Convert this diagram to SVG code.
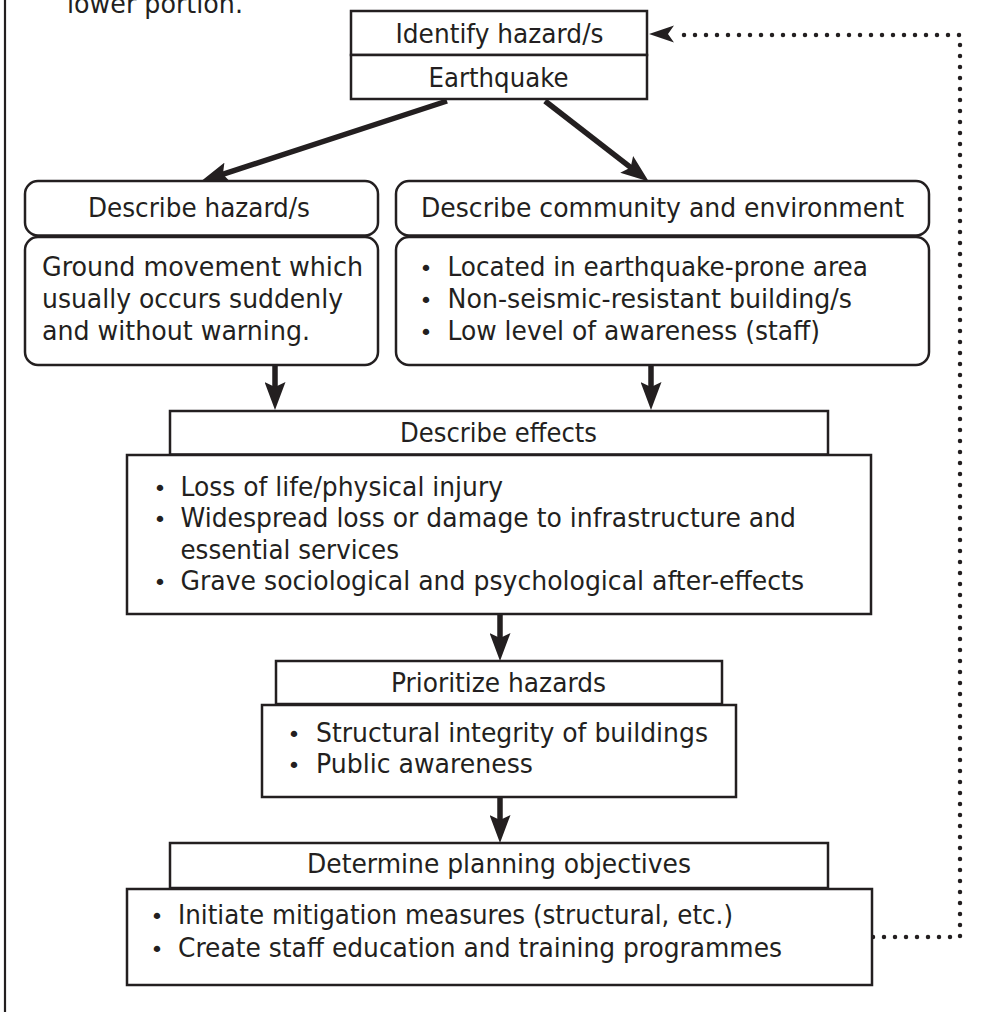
<svg xmlns="http://www.w3.org/2000/svg" width="985" height="1012" viewBox="0 0 985 1012">
<defs>
<style>
.box{fill:#fff;stroke:#231f20;stroke-width:2.5}
.t{font-family:"DejaVu Sans","Liberation Sans",sans-serif;font-size:26.5px;fill:#231f20}
.b{font-size:22px}
.arrow{stroke:#231f20;stroke-width:5.5;fill:none}
.dots{stroke:#231f20;stroke-width:4.5;stroke-linecap:round;stroke-dasharray:0 11;fill:none}
.frame{stroke:#231f20;stroke-width:2.2}
</style>
<marker id="ah" markerUnits="userSpaceOnUse" markerWidth="28" markerHeight="21" refX="7" refY="10.5" orient="auto">
<path d="M0,0 L28,10.5 L0,21 L5,10.5 Z" fill="#231f20"/>
</marker>
</defs>
<rect width="985" height="1012" fill="#fff"/>
<line class="frame" x1="5" y1="0" x2="5" y2="1012"/>
<text class="t" x="67" y="13" textLength="176" lengthAdjust="spacingAndGlyphs">lower portion.</text>

<g id="connectors">
<line class="arrow" x1="447" y1="101" x2="221" y2="174.8" marker-end="url(#ah)"/>
<line class="arrow" x1="545" y1="101" x2="632.2" y2="168.7" marker-end="url(#ah)"/>
<line class="arrow" x1="275" y1="366" x2="275" y2="389" marker-end="url(#ah)"/>
<line class="arrow" x1="651" y1="366" x2="651" y2="389" marker-end="url(#ah)"/>
<line class="arrow" x1="500" y1="615" x2="500" y2="640" marker-end="url(#ah)"/>
<line class="arrow" x1="500" y1="798" x2="500" y2="822" marker-end="url(#ah)"/>
<path class="dots" d="M873,937 H960 V35 H680"/>
<path d="M649,34 L674,25.5 L668,34 L674,42.5 Z" fill="#231f20"/>
</g>

<g id="identify">
<rect class="box" x="351" y="11" width="296" height="44"/>
<rect class="box" x="351" y="55" width="296" height="44"/>
<text class="t" x="395.5" y="43" textLength="208" lengthAdjust="spacingAndGlyphs">Identify hazard/s</text>
<text class="t" x="428.5" y="87" textLength="140" lengthAdjust="spacingAndGlyphs">Earthquake</text>
</g>

<g id="describe-hazard">
<rect class="box" x="25" y="181" width="353" height="54.5" rx="13"/>
<rect class="box" x="25" y="237" width="353" height="128" rx="13"/>
<text class="t" x="88" y="217" textLength="222" lengthAdjust="spacingAndGlyphs">Describe hazard/s</text>
<text class="t" x="42" y="276" textLength="321" lengthAdjust="spacingAndGlyphs">Ground movement which</text>
<text class="t" x="42" y="308" textLength="301" lengthAdjust="spacingAndGlyphs">usually occurs suddenly</text>
<text class="t" x="42" y="340" textLength="268" lengthAdjust="spacingAndGlyphs">and without warning.</text>
</g>

<g id="describe-community">
<rect class="box" x="396" y="181" width="533" height="54.5" rx="13"/>
<rect class="box" x="396" y="237" width="533" height="128" rx="13"/>
<text class="t" x="421" y="217" textLength="483" lengthAdjust="spacingAndGlyphs">Describe community and environment</text>
<text class="t"><tspan class="b" x="419.5" y="276">•</tspan><tspan x="447.5" y="276" textLength="420.5" lengthAdjust="spacingAndGlyphs">Located in earthquake-prone area</tspan></text>
<text class="t"><tspan class="b" x="419.5" y="308">•</tspan><tspan x="447.5" y="308" textLength="404.5" lengthAdjust="spacingAndGlyphs">Non-seismic-resistant building/s</tspan></text>
<text class="t"><tspan class="b" x="419.5" y="340">•</tspan><tspan x="447.5" y="340" textLength="372.5" lengthAdjust="spacingAndGlyphs">Low level of awareness (staff)</tspan></text>
</g>

<g id="describe-effects">
<rect class="box" x="170" y="411" width="658" height="43.5"/>
<rect class="box" x="127" y="455" width="744" height="159"/>
<text class="t" x="400" y="442" textLength="197" lengthAdjust="spacingAndGlyphs">Describe effects</text>
<text class="t"><tspan class="b" x="153.5" y="496">•</tspan><tspan x="180.5" y="496" textLength="322.5" lengthAdjust="spacingAndGlyphs">Loss of life/physical injury</tspan></text>
<text class="t"><tspan class="b" x="153.5" y="527">•</tspan><tspan x="180.5" y="527" textLength="615.5" lengthAdjust="spacingAndGlyphs">Widespread loss or damage to infrastructure and</tspan></text>
<text class="t" x="180.5" y="559" textLength="218.5" lengthAdjust="spacingAndGlyphs">essential services</text>
<text class="t"><tspan class="b" x="153.5" y="590">•</tspan><tspan x="180.5" y="590" textLength="623.5" lengthAdjust="spacingAndGlyphs">Grave sociological and psychological after-effects</tspan></text>
</g>

<g id="prioritize">
<rect class="box" x="276" y="661" width="446" height="43"/>
<rect class="box" x="262" y="705" width="474" height="92"/>
<text class="t" x="391" y="692" textLength="215" lengthAdjust="spacingAndGlyphs">Prioritize hazards</text>
<text class="t"><tspan class="b" x="287.5" y="742">•</tspan><tspan x="316" y="742" textLength="392" lengthAdjust="spacingAndGlyphs">Structural integrity of buildings</tspan></text>
<text class="t"><tspan class="b" x="287.5" y="773">•</tspan><tspan x="316" y="773" textLength="217" lengthAdjust="spacingAndGlyphs">Public awareness</tspan></text>
</g>

<g id="objectives">
<rect class="box" x="170" y="843" width="658" height="45"/>
<rect class="box" x="127" y="889" width="745" height="96"/>
<text class="t" x="307" y="873" textLength="384" lengthAdjust="spacingAndGlyphs">Determine planning objectives</text>
<text class="t"><tspan class="b" x="150.5" y="924">•</tspan><tspan x="178" y="924" textLength="555" lengthAdjust="spacingAndGlyphs">Initiate mitigation measures (structural, etc.)</tspan></text>
<text class="t"><tspan class="b" x="150.5" y="957">•</tspan><tspan x="178" y="957" textLength="604" lengthAdjust="spacingAndGlyphs">Create staff education and training programmes</tspan></text>
</g>
</svg>
